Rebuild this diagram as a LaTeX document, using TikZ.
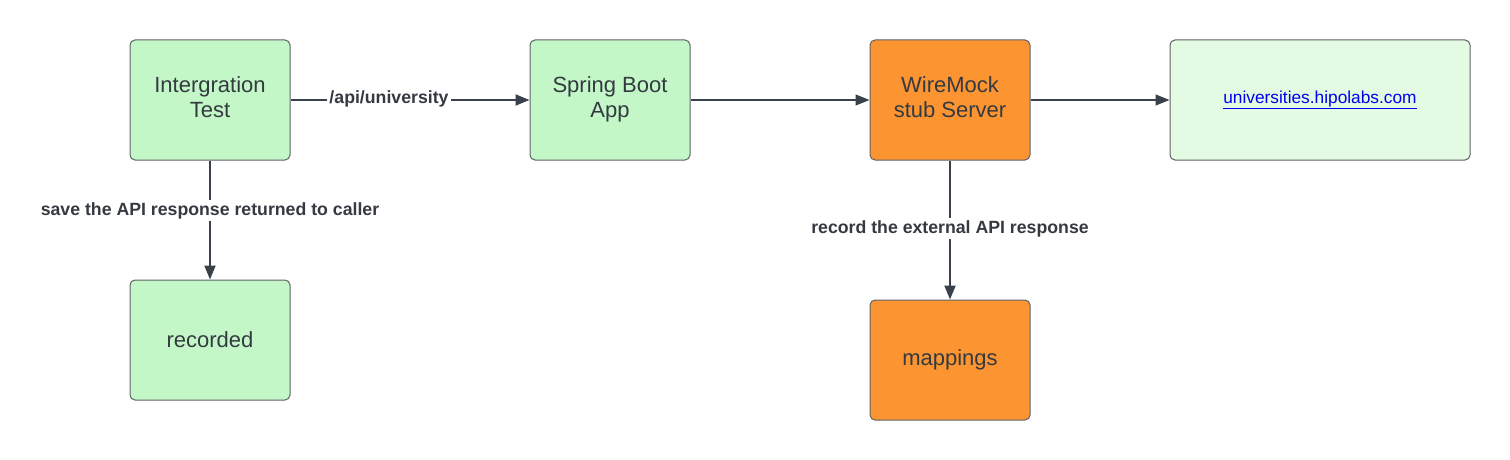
\documentclass[tikz,border=0pt]{standalone}
\usepackage{fontspec}
\setmainfont{Liberation Sans}
\usetikzlibrary{arrows.meta}
\definecolor{boxgreen}{HTML}{C3F7C8}
\definecolor{palegreen}{HTML}{E3FAE3}
\definecolor{boxorange}{HTML}{FC9432}
\definecolor{edgegrey}{HTML}{5E6266}
\definecolor{linecol}{HTML}{3A414A}
\definecolor{txtcol}{HTML}{343A40}
\definecolor{linkblue}{HTML}{0000EE}
\newcommand{\twoln}[2]{\raisebox{3.5pt}{\begin{tabular}{@{}c@{}}#1\\#2\end{tabular}}}
\tikzset{
  box/.style={draw=edgegrey, line width=1pt, rounded corners=5pt, minimum width=160pt, minimum height=120pt,
    inner sep=0pt, align=center, text=txtcol, font=\fontsize{22}{25}\selectfont},
  greenbox/.style={box, fill=boxgreen},
  orangebox/.style={box, fill=boxorange},
  thinarrow/.style={draw=linecol, line width=1.2pt, -{Triangle[length=14pt,width=11pt]}},
  thickarrow/.style={draw=linecol, line width=2pt, -{Triangle[length=14pt,width=11pt]}},
  lbl/.style={fill=white, text=txtcol, inner sep=2pt, font=\bfseries\fontsize{17.7}{20}\selectfont}
}
\begin{document}
\begin{tikzpicture}[x=1pt,y=-1pt]
\useasboundingbox (0,0) rectangle (1510,460);
\node[greenbox] (it) at (210,100) {\twoln{Intergration}{Test}};
\node[greenbox] (sb) at (610,100) {\twoln{Spring Boot}{App}};
\node[orangebox] (wm) at (950,100) {\twoln{WireMock}{stub Server}};
\node[box, fill=palegreen, minimum width=300pt] (uh) at (1320,100)
  {\textcolor{linkblue}{\fontsize{17.3}{20}\selectfont\underline{universities.hipolabs.com}}};
\node[greenbox] (rec) at (210,340) {recorded};
\node[orangebox] (map) at (950,360) {mappings};

\draw[thickarrow] (it) -- node[lbl, xshift=-21pt, yshift=1pt] {/api/university} (sb);
\draw[thinarrow] (sb) -- (wm);
\draw[thinarrow] (wm) -- (uh);
\draw[thickarrow] (it) -- node[lbl, pos=0.42] {save the API response returned to caller} (rec);
\draw[thickarrow] (wm) -- node[lbl, pos=0.49] {record the external API response} (map);
\end{tikzpicture}
\end{document}
